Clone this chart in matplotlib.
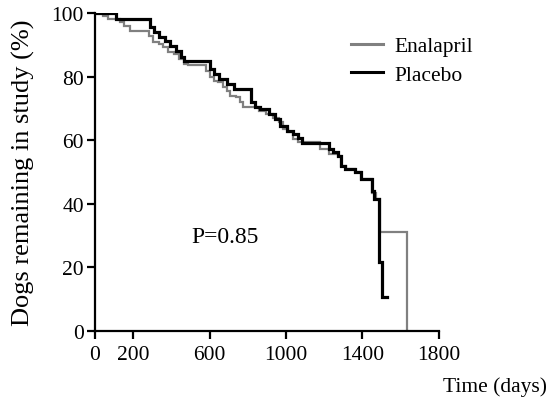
import matplotlib
matplotlib.use("Agg")
import matplotlib.pyplot as plt

# Kaplan-Meier step data (time in days, % remaining after step)
placebo_t = [0, 110, 290, 310, 335, 365, 395, 425, 450, 465, 600, 625, 650, 690, 730,
             815, 835, 865, 910, 940, 970, 1005, 1035, 1060, 1085, 1225, 1245, 1270,
             1290, 1310, 1360, 1390, 1450, 1460, 1488, 1500, 1526]
placebo_s = [100, 98, 95.5, 93.9, 92.3, 91.3, 89.7, 88.1, 86, 85, 82.4, 80.8, 79.2, 77.7, 76,
             72, 70.3, 69.8, 68.2, 66.6, 64.5, 63, 61.9, 60.5, 59.2, 57.2, 56.2, 55.1,
             51.9, 50.9, 49.9, 47.8, 44.1, 41.5, 21.5, 10.5, 10.5]

enalapril_t = [0, 40, 70, 131, 150, 185, 285, 305, 335, 355, 380, 415, 440, 465, 485,
               580, 600, 625, 645, 670, 690, 705, 740, 760, 775, 860, 895, 930, 965, 985,
               1010, 1035, 1060, 1180, 1225, 1270, 1290, 1315, 1360, 1390, 1450, 1470,
               1490, 1631]
enalapril_s = [100, 99.2, 98.1, 97.1, 96, 94.4, 92.9, 90.8, 90.2, 89.2, 87.6, 87.1, 85.5, 84, 83.5,
               81.8, 79.8, 78.7, 78.2, 76.6, 75.5, 74, 73.5, 71.9, 70.3, 69.2, 68.2, 67.1, 65.6, 63.5,
               62.4, 60.3, 59.3, 57.2, 55.6, 55.1, 51.9, 50.9, 49.9, 47.8, 43.5, 41.5,
               31, 0]

x_ticks = [0, 200, 600, 1000, 1400, 1800]
y_ticks = [0, 20, 40, 60, 80, 100]

plt.rcParams['font.family'] = ['Liberation Serif', 'DejaVu Serif']

fig = plt.figure(figsize=(5.5, 4.06), dpi=100)
ax = fig.add_axes([0.1727, 0.183, 0.798 - 0.1727, 0.9655 - 0.183])

ax.plot(enalapril_t, enalapril_s, drawstyle='steps-post', color='#808080', lw=1.6,
        label='Enalapril', solid_joinstyle='miter')
ax.plot(placebo_t, placebo_s, drawstyle='steps-post', color='black', lw=2.3,
        label='Placebo', solid_joinstyle='miter')

ax.set_xlim(0, 1800)
ax.set_ylim(0, 100)
ax.set_xticks(x_ticks)
ax.set_yticks(y_ticks)
for s in ['top', 'right']:
    ax.spines[s].set_visible(False)
for s in ['left', 'bottom']:
    ax.spines[s].set_linewidth(1.6)
ax.tick_params(direction='out', length=6, width=1.6, labelsize=15.5)
ax.tick_params(axis='x', pad=4)
ax.tick_params(axis='y', pad=2)

ax.set_ylabel('Dogs remaining in study (%)', fontsize=19, labelpad=12)
fig.text(0.995, 0.035, 'Time (days)', fontsize=15.5, ha='right', va='baseline')
ax.text(505, 29.5, 'P=0.85', fontsize=17, ha='left', va='center')

leg = ax.legend(loc='upper left', bbox_to_anchor=(351 / 550, 1 - 37 / 406),
                bbox_transform=fig.transFigure, frameon=False, fontsize=15.5,
                handlelength=1.5, handletextpad=0.5, borderpad=0, borderaxespad=0,
                labelspacing=0.4)
for line in leg.get_lines():
    line.set_linewidth(2.2)

fig.savefig('out.png', dpi=100)
